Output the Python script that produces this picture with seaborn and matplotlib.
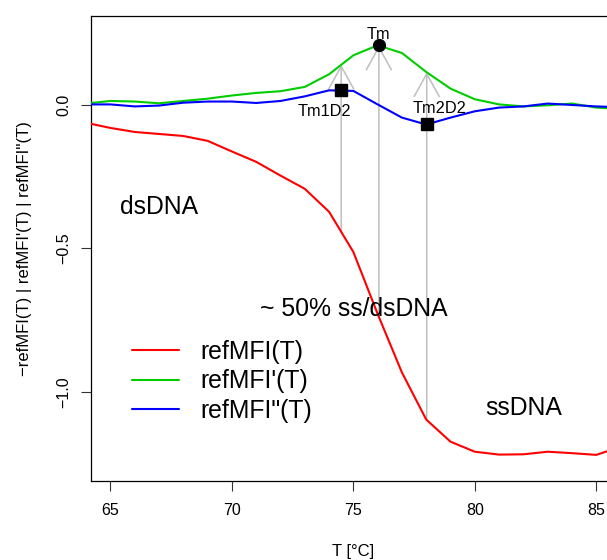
import numpy as np
import pandas as pd
import matplotlib
matplotlib.use("Agg")
import matplotlib.pyplot as plt
from matplotlib.lines import Line2D
import seaborn as sns

# Melting curve data (temperature in degrees C)
temperature = [64, 65, 66, 67, 68, 69, 70, 71, 72, 73, 74, 75,
               76, 77, 78, 79, 80, 81, 82, 83, 84, 85, 86]
ref_mfi = [-0.062, -0.080, -0.094, -0.101, -0.108, -0.125, -0.162, -0.198,
           -0.246, -0.292, -0.372, -0.512, -0.728, -0.932, -1.096, -1.173,
           -1.208, -1.218, -1.217, -1.208, -1.213, -1.219, -1.191]
ref_mfi_d1 = [0.005, 0.014, 0.012, 0.006, 0.014, 0.022, 0.033, 0.042,
              0.048, 0.063, 0.107, 0.173, 0.208, 0.181, 0.115, 0.057,
              0.020, 0.002, -0.005, -0.001, 0.005, -0.009, -0.014]
ref_mfi_d2 = [0.002, 0.002, -0.005, -0.002, 0.008, 0.012, 0.012, 0.007,
              0.014, 0.030, 0.051, 0.049, 0.002, -0.044, -0.068, -0.044,
              -0.022, -0.009, -0.005, 0.005, 0.000, -0.005, -0.008]

series_labels = ["refMFI(T)", "refMFI'(T)", 'refMFI"(T)']
series_colors = ["#FF0000", "#00CD00", "#0000FF"]

# Melting temperature and the second-derivative extrema
tm_x, tm_y = 76.05, 0.210
tm1d2_x, tm1d2_y = 74.5, 0.053
tm2d2_x, tm2d2_y = 78.02, -0.068

# Region annotations
region_text = ["dsDNA", "~ 50% ss/dsDNA", "ssDNA"]
region_x = [67.0, 75.0, 82.0]
region_y = [-0.355, -0.71, -1.055]

xticks = [65, 70, 75, 80, 85]
yticks = [0.0, -0.5, -1.0]

sns.set_style("ticks")
plt.rcParams["font.family"] = ["Liberation Sans", "DejaVu Sans"]
plt.rcParams["text.color"] = "black"
plt.rcParams["axes.labelcolor"] = "black"

df = pd.DataFrame({
    "T": temperature * 3,
    "value": ref_mfi + ref_mfi_d1 + ref_mfi_d2,
    "series": ([series_labels[0]] * len(temperature)
               + [series_labels[1]] * len(temperature)
               + [series_labels[2]] * len(temperature)),
})

fig = plt.figure(figsize=(6.07, 5.6), dpi=100)
ax = fig.add_axes([91 / 607, 79 / 560, 524.7 / 607, 465 / 560])

sns.lineplot(data=df, x="T", y="value", hue="series", hue_order=series_labels,
             palette=dict(zip(series_labels, series_colors)), linewidth=1.5,
             errorbar=None, legend=False, ax=ax, zorder=3)

# Arrows from the melting curve up to the first derivative
for x in (tm1d2_x, tm_x, tm2d2_x):
    y0 = np.interp(x, temperature, ref_mfi)
    y1 = np.interp(x, temperature, ref_mfi_d1)
    ax.annotate("", xy=(x, y1), xytext=(x, y0),
                arrowprops=dict(arrowstyle="->,head_length=1.62,head_width=0.9",
                                mutation_scale=10, color="#BEBEBE", lw=1.1,
                                shrinkA=0, shrinkB=0),
                zorder=2)

ax.plot([tm_x], [tm_y], "o", color="black", markersize=8.5, zorder=5)
ax.plot([tm1d2_x, tm2d2_x], [tm1d2_y, tm2d2_y], "s", color="black",
        markersize=8.3, zorder=5)

small = 11.8
ax.annotate("Tm", (tm_x, tm_y), xytext=(0, 7), textcoords="offset points",
            ha="center", va="center", fontsize=small, color="black")
ax.annotate("Tm1D2", (tm1d2_x, tm1d2_y), xytext=(-12.2, -15.4),
            textcoords="offset points", ha="center", va="center",
            fontsize=small, color="black")
ax.annotate("Tm2D2", (tm2d2_x, tm2d2_y), xytext=(9.6, 11.3),
            textcoords="offset points", ha="center", va="center",
            fontsize=small, color="black")

for txt, x, y in zip(region_text, region_x, region_y):
    ax.text(x, y, txt, ha="center", va="center", fontsize=17.8, color="black")

handles = [Line2D([], [], color=c, lw=1.5) for c in series_colors]
leg = ax.legend(handles, series_labels, loc="upper left",
                bbox_to_anchor=(0.0787, 0.3034), frameon=False, fontsize=17.8,
                handlelength=1.9, handletextpad=0.85, labelspacing=0.22,
                borderpad=0, borderaxespad=0)
for t in leg.get_texts():
    t.set_color("black")

ax.set_xlim(64.2, 85.8)
ax.set_ylim(-1.31, 0.31)
ax.set_xticks(xticks)
ax.set_yticks(yticks)
ax.set_xticklabels([str(t) for t in xticks])
ax.set_yticklabels([f"{t:.1f}".replace("-", "\u2212") for t in yticks],
                   rotation=90, va="center")
ax.tick_params(axis="both", direction="out", length=7.5, width=0.8,
               color="#333333", labelsize=11.5, labelcolor="black")
ax.tick_params(axis="x", pad=8)
ax.tick_params(axis="y", pad=6.5)

for side in ("left", "right", "top", "bottom"):
    ax.spines[side].set_visible(True)
    ax.spines[side].set_color("black")
    ax.spines[side].set_linewidth(0.9)

ax.set_xlabel("T [\u00b0C]", fontsize=12, va="center", color="black")
ax.xaxis.set_label_coords(0.5, (481 - 551.7) / 465)
ax.set_ylabel("\u2212refMFI(T) | refMFI'(T) | refMFI''(T)", fontsize=12,
              va="center", color="black")
ax.yaxis.set_label_coords((25 - 91) / 524.7, 0.5)

fig.savefig("out.png", dpi=100)
